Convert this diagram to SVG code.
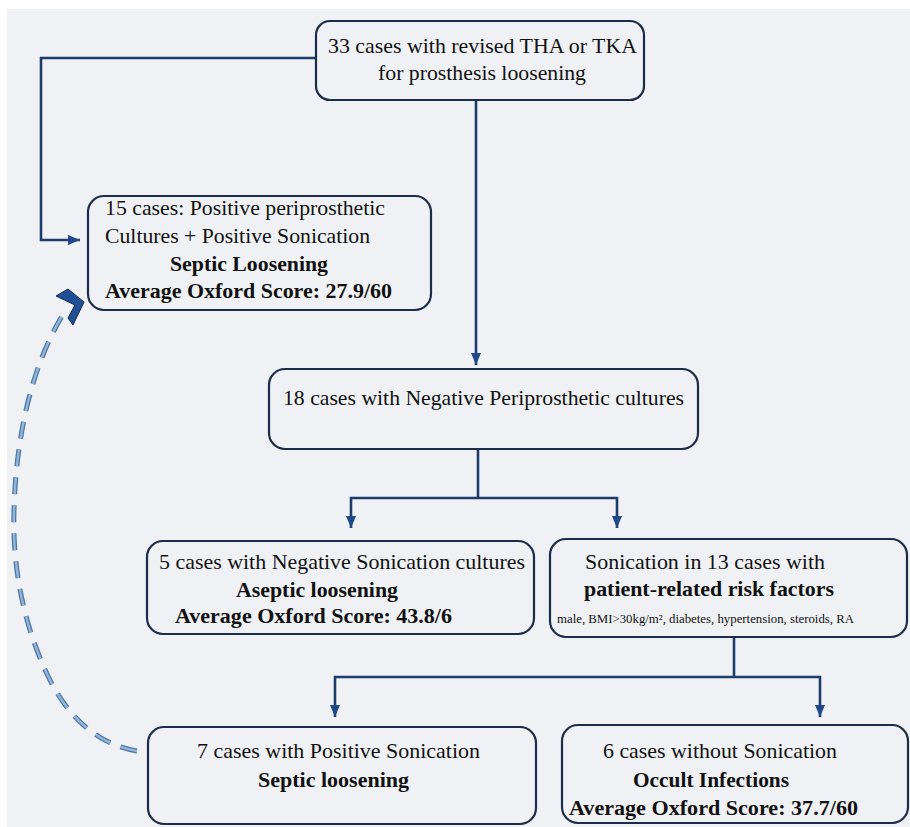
<svg xmlns="http://www.w3.org/2000/svg" width="910" height="827" viewBox="0 0 910 827" font-family="Liberation Serif, Times New Roman, serif">
<defs>
<style>
.bg{fill:#eff1f5}
.box{fill:#eff1f5;stroke:#1c2d4a;stroke-width:2.2}
.t{fill:#111;font-size:21px}
.b{font-weight:bold}
.s{font-size:12px}
.c{fill:none;stroke:#1d3c6c;stroke-width:2.6}
.dash1{fill:none;stroke:#4d79a8;stroke-width:5;stroke-dasharray:17 11}
.dash2{fill:none;stroke:#93b5d8;stroke-width:2.4;stroke-dasharray:17 11}
</style>
<marker id="ah" viewBox="0 0 12 10" refX="12" refY="5" markerWidth="12" markerHeight="10" orient="auto" markerUnits="userSpaceOnUse">
<path d="M0,0 L12,5 L0,10 z" fill="#1f4a8a"/>
</marker>
</defs>
<rect width="910" height="827" fill="#ffffff"/>
<rect x="7" y="9" width="903" height="818" class="bg"/>

<g id="connectors">
<path class="c" d="M316,58 H41 V240 H80" marker-end="url(#ah)"/>
<path class="c" d="M476,100 V365" marker-end="url(#ah)"/>
<path class="c" d="M478,449 V498"/>
<path class="c" d="M478,498 H351 V528" marker-end="url(#ah)"/>
<path class="c" d="M478,498 H617 V528" marker-end="url(#ah)"/>
<path class="c" d="M734,637 V677"/>
<path class="c" d="M734,677 H335 V717" marker-end="url(#ah)"/>
<path class="c" d="M734,677 H820 V717" marker-end="url(#ah)"/>
<g id="feedback">
<path class="dash1" d="M137,751 C100,745 70,720 50,680 C25,630 12,570 14,510 C16,440 30,370 62,316"/>
<path class="dash2" d="M137,751 C100,745 70,720 50,680 C25,630 12,570 14,510 C16,440 30,370 62,316"/>
<path d="M56,296 L68,289 L84,302 L73,325 L68,318 L75,305 z" fill="#1f4f94" stroke="#10284d" stroke-width="1"/>
</g>
</g>

<g id="n_top">
<rect class="box" x="316" y="21" width="328" height="79" rx="14"/>
<text class="t" x="328" y="53" font-size="22" textLength="309" lengthAdjust="spacingAndGlyphs">33 cases with revised THA or TKA</text>
<text class="t" x="378" y="80" font-size="22" textLength="208" lengthAdjust="spacingAndGlyphs">for prosthesis loosening</text>
</g>

<g id="n_septic15">
<rect class="box" x="88" y="196" width="343" height="114" rx="16"/>
<text class="t" x="105" y="215" textLength="280" lengthAdjust="spacingAndGlyphs">15 cases: Positive periprosthetic</text>
<text class="t" x="105" y="243" textLength="265" lengthAdjust="spacingAndGlyphs">Cultures + Positive Sonication</text>
<text class="t b" x="170" y="271" textLength="158" lengthAdjust="spacingAndGlyphs">Septic Loosening</text>
<text class="t b" x="105" y="298" textLength="287" lengthAdjust="spacingAndGlyphs">Average Oxford Score: 27.9/60</text>
</g>

<g id="n_neg18">
<rect class="box" x="269" y="369" width="429" height="80" rx="16"/>
<text class="t" x="283" y="405" textLength="401" lengthAdjust="spacingAndGlyphs">18 cases with Negative Periprosthetic cultures</text>
</g>

<g id="n_aseptic5">
<rect class="box" x="147" y="541" width="387" height="93" rx="16"/>
<text class="t" x="159" y="569" textLength="366" lengthAdjust="spacingAndGlyphs">5 cases with Negative Sonication cultures</text>
<text class="t b" x="236" y="597" textLength="162" lengthAdjust="spacingAndGlyphs">Aseptic loosening</text>
<text class="t b" x="175" y="623" textLength="277" lengthAdjust="spacingAndGlyphs">Average Oxford Score: 43.8/6</text>
</g>

<g id="n_sonication13">
<rect class="box" x="550" y="539" width="357" height="98" rx="16"/>
<text class="t" x="585" y="569" textLength="240" lengthAdjust="spacingAndGlyphs">Sonication in 13 cases with</text>
<text class="t b" x="584" y="596" font-size="23" textLength="250" lengthAdjust="spacingAndGlyphs">patient-related risk factors</text>
<text class="t s" x="557" y="623" textLength="297" lengthAdjust="spacingAndGlyphs">male, BMI&gt;30kg/m², diabetes, hypertension, steroids, RA</text>
</g>

<g id="n_positive7">
<rect class="box" x="148" y="727" width="388" height="97" rx="16"/>
<text class="t" x="197" y="758" textLength="283" lengthAdjust="spacingAndGlyphs">7 cases with Positive Sonication</text>
<text class="t b" x="258" y="787" textLength="151" lengthAdjust="spacingAndGlyphs">Septic loosening</text>
</g>

<g id="n_occult6">
<rect class="box" x="562" y="725" width="346" height="98" rx="16"/>
<text class="t" x="603" y="758" textLength="234" lengthAdjust="spacingAndGlyphs">6 cases without Sonication</text>
<text class="t b" x="633" y="787" textLength="156" lengthAdjust="spacingAndGlyphs">Occult Infections</text>
<text class="t b" x="569" y="815" textLength="289" lengthAdjust="spacingAndGlyphs">Average Oxford Score: 37.7/60</text>
</g>
</svg>
